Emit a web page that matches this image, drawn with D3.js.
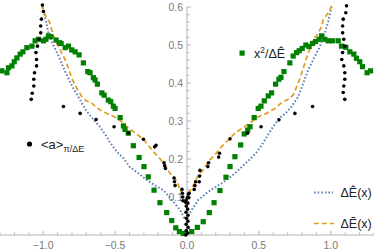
<!DOCTYPE html>
<html>
<head>
<meta charset="utf-8">
<script src="https://cdn.jsdelivr.net/npm/d3@7"></script>
<style>
  html, body { margin: 0; padding: 0; background: #fff; }
  svg { display: block; font-family: "Liberation Sans", Arial, sans-serif; }
</style>
</head>
<body>
<div id="chart"></div>
<script>
// tick values
var xTicks = [-1.0, -0.5, 0.0, 0.5, 1.0];
var yTicks = [0.1, 0.2, 0.3, 0.4, 0.5, 0.6];

// ΔÊ(x), blue dotted
var deltaEHat = [
  [-1.005, 0.600], [-0.980, 0.563], [-0.963, 0.530], [-0.930, 0.500], [-0.896, 0.474],
  [-0.861, 0.442], [-0.826, 0.413], [-0.792, 0.387], [-0.743, 0.355], [-0.708, 0.331],
  [-0.660, 0.308], [-0.627, 0.294], [-0.604, 0.284], [-0.558, 0.259], [-0.535, 0.243],
  [-0.488, 0.219], [-0.442, 0.202], [-0.396, 0.178], [-0.330, 0.160], [-0.280, 0.145],
  [-0.220, 0.130], [-0.164, 0.118], [-0.095, 0.088], [-0.049, 0.066], [-0.014, 0.042],
  [0.000, 0.045], [0.033, 0.066], [0.078, 0.092], [0.148, 0.114], [0.241, 0.136],
  [0.333, 0.162], [0.400, 0.186], [0.440, 0.200], [0.488, 0.219], [0.530, 0.243],
  [0.565, 0.265], [0.611, 0.292], [0.650, 0.310], [0.690, 0.322], [0.727, 0.338],
  [0.773, 0.364], [0.808, 0.399], [0.842, 0.434], [0.877, 0.461], [0.924, 0.496],
  [0.958, 0.531], [0.981, 0.561], [1.005, 0.600]
];

// ΔẼ(x), orange dashed
var deltaETilde = [
  [-1.009, 0.605], [-0.986, 0.579], [-0.956, 0.561], [-0.940, 0.539], [-0.917, 0.513],
  [-0.882, 0.487], [-0.847, 0.461], [-0.824, 0.439], [-0.801, 0.412], [-0.766, 0.386],
  [-0.731, 0.364], [-0.701, 0.353], [-0.662, 0.347], [-0.639, 0.339], [-0.604, 0.329],
  [-0.558, 0.320], [-0.500, 0.310], [-0.453, 0.298], [-0.419, 0.285], [-0.373, 0.272],
  [-0.303, 0.252], [-0.260, 0.232], [-0.234, 0.219], [-0.199, 0.206], [-0.155, 0.185],
  [-0.118, 0.162], [-0.083, 0.149], [-0.060, 0.132], [-0.049, 0.118], [-0.026, 0.105],
  [0.000, 0.095], [0.009, 0.110], [0.033, 0.123], [0.056, 0.140], [0.078, 0.158],
  [0.113, 0.171], [0.148, 0.193], [0.194, 0.211], [0.229, 0.228], [0.287, 0.250],
  [0.333, 0.268], [0.391, 0.283], [0.449, 0.298], [0.495, 0.311], [0.553, 0.320],
  [0.611, 0.333], [0.657, 0.348], [0.703, 0.357], [0.738, 0.368], [0.762, 0.390],
  [0.785, 0.412], [0.808, 0.439], [0.831, 0.465], [0.854, 0.491], [0.877, 0.513],
  [0.912, 0.531], [0.935, 0.548], [0.947, 0.566], [0.970, 0.579], [0.993, 0.592],
  [1.005, 0.603]
];

// x²/ΔÊ, green squares
var xSqOverDE = [
  [-1.287, 0.432], [-1.252, 0.427], [-1.241, 0.440], [-1.217, 0.445], [-1.201, 0.456],
  [-1.183, 0.466], [-1.160, 0.476], [-1.141, 0.482], [-1.113, 0.493], [-1.078, 0.497],
  [-1.056, 0.511], [-1.033, 0.515], [-0.998, 0.511], [-0.981, 0.515], [-0.963, 0.524],
  [-0.947, 0.522], [-0.910, 0.513], [-0.887, 0.506], [-0.875, 0.504], [-0.847, 0.493],
  [-0.824, 0.497], [-0.801, 0.487], [-0.778, 0.482], [-0.750, 0.474], [-0.720, 0.453],
  [-0.690, 0.430], [-0.674, 0.427], [-0.651, 0.414], [-0.639, 0.408], [-0.623, 0.397],
  [-0.592, 0.374], [-0.576, 0.368], [-0.547, 0.355], [-0.530, 0.351], [-0.512, 0.339],
  [-0.500, 0.333], [-0.465, 0.309], [-0.442, 0.287], [-0.431, 0.278], [-0.408, 0.268],
  [-0.373, 0.235], [-0.333, 0.204], [-0.299, 0.180], [-0.269, 0.153], [-0.229, 0.118],
  [-0.188, 0.085], [-0.141, 0.059], [-0.106, 0.038], [-0.078, 0.019], [-0.053, 0.009],
  [-0.026, 0.004],
  [0.033, 0.009], [0.072, 0.020], [0.113, 0.035], [0.155, 0.059], [0.188, 0.085],
  [0.229, 0.117], [0.271, 0.152], [0.299, 0.180], [0.333, 0.206], [0.373, 0.237],
  [0.398, 0.266], [0.422, 0.276], [0.438, 0.285], [0.467, 0.309], [0.495, 0.333],
  [0.514, 0.339], [0.537, 0.353], [0.565, 0.366], [0.588, 0.374], [0.616, 0.397],
  [0.639, 0.410], [0.653, 0.415], [0.674, 0.430], [0.715, 0.453], [0.738, 0.471],
  [0.762, 0.480], [0.780, 0.485], [0.801, 0.491], [0.826, 0.500], [0.849, 0.496],
  [0.873, 0.504], [0.894, 0.509], [0.919, 0.515], [0.935, 0.524], [0.958, 0.515],
  [0.981, 0.511], [1.012, 0.511], [1.051, 0.511], [1.074, 0.497], [1.104, 0.494],
  [1.132, 0.482], [1.160, 0.476], [1.178, 0.465], [1.201, 0.456], [1.220, 0.443],
  [1.252, 0.427], [1.276, 0.432]
];

// <a>_{π/ΔE}, black dots
var aAvg = [
  // left column
  [-1.005, 0.605], [-0.998, 0.588], [-1.012, 0.568], [-1.017, 0.550], [-1.017, 0.532],
  [-1.029, 0.515], [-1.040, 0.497], [-1.050, 0.480], [-1.046, 0.462], [-1.046, 0.445],
  [-1.060, 0.427], [-1.065, 0.410], [-1.065, 0.392], [-1.076, 0.373], [-1.083, 0.357],
  // right column
  [1.109, 0.603], [1.104, 0.585], [1.086, 0.568], [1.082, 0.550], [1.082, 0.532],
  [1.090, 0.515], [1.097, 0.497], [1.082, 0.480], [1.076, 0.462], [1.090, 0.445],
  [1.097, 0.427], [1.097, 0.410], [1.090, 0.392], [1.086, 0.375], [1.097, 0.357],
  // scattered
  [-0.859, 0.338], [-0.743, 0.320], [-0.632, 0.304], [-0.507, 0.285], [-0.408, 0.268],
  [-0.303, 0.252], [0.299, 0.253], [0.421, 0.268], [0.515, 0.285], [0.639, 0.303],
  [0.750, 0.320], [0.873, 0.338],
  // near the centre
  [-0.225, 0.232], [-0.215, 0.236], [-0.160, 0.190], [-0.155, 0.182], [-0.150, 0.175],
  [-0.090, 0.150], [-0.087, 0.140], [-0.083, 0.130], [-0.035, 0.120], [-0.032, 0.110],
  [-0.030, 0.100], [-0.028, 0.090],
  [-0.008, 0.000], [0.005, 0.005], [-0.005, 0.012], [0.008, 0.020], [-0.006, 0.028],
  [0.006, 0.036], [-0.004, 0.044], [0.007, 0.052], [-0.007, 0.060], [0.004, 0.068],
  [-0.005, 0.076], [0.006, 0.084], [-0.006, 0.092], [0.005, 0.100], [-0.010, 0.086],
  [0.012, 0.098], [0.010, 0.108],
  [0.220, 0.205], [0.226, 0.215], [0.145, 0.180], [0.150, 0.190], [0.085, 0.140],
  [0.088, 0.155], [0.090, 0.170], [0.050, 0.120], [0.055, 0.130], [0.060, 0.140],
  [0.015, 0.110]
];

var W = 374, H = 252;
var blue = '#5E81B5', orange = '#E19C24', green = '#008000', axisCol = '#b3b3b3', labCol = '#7a7a7a';

var svg = d3.select('#chart').append('svg')
  .attr('width', W)
  .attr('height', H);

var x = d3.scaleLinear().domain([-1.3, 1.3]).range([0, W]);
var y = d3.scaleLinear().domain([0, 0.6]).range([235, 7]);

// axes (Mathematica style: ticks pointing inward)
var xAxis = svg.append('g').attr('transform', 'translate(0,' + y(0) + ')');
xAxis.append('line').attr('x1', 0).attr('x2', W).attr('stroke', axisCol);
xAxis.selectAll('.minor').data(d3.range(-13, 14).map(function (i) { return i / 10; }))
  .enter().append('line')
  .attr('x1', function (d) { return x(d); }).attr('x2', function (d) { return x(d); })
  .attr('y1', 0).attr('y2', function (d) { return Math.abs(d * 2 - Math.round(d * 2)) < 1e-6 ? -4 : -2.5; })
  .attr('stroke', axisCol);
xAxis.selectAll('text').data(xTicks).enter().append('text')
  .attr('x', function (d) { return x(d); })
  .attr('y', 14)
  .attr('text-anchor', 'middle')
  .attr('fill', labCol)
  .attr('font-size', 10.5)
  .text(function (d) { return d3.format('.1f')(d).replace('-', '\u2212'); });

var yAxis = svg.append('g').attr('transform', 'translate(' + x(0) + ',0)');
yAxis.append('line').attr('y1', y(0)).attr('y2', y(0.6)).attr('stroke', axisCol);
yAxis.selectAll('.minor').data(d3.range(1, 31).map(function (i) { return i / 50; }))
  .enter().append('line')
  .attr('y1', function (d) { return y(d); }).attr('y2', function (d) { return y(d); })
  .attr('x1', 0).attr('x2', function (d) { return Math.abs(d * 10 - Math.round(d * 10)) < 1e-6 ? 4 : 2.5; })
  .attr('stroke', axisCol);
yAxis.selectAll('text').data(yTicks).enter().append('text')
  .attr('x', -4)
  .attr('y', function (d) { return y(d); })
  .attr('dy', '0.35em')
  .attr('text-anchor', 'end')
  .attr('fill', labCol)
  .attr('font-size', 10.5)
  .text(function (d) { return d3.format('.1f')(d); });

var line = d3.line()
  .x(function (d) { return x(d[0]); })
  .y(function (d) { return y(d[1]); });

var plot = svg.append('g');

plot.append('path').datum(deltaEHat)
  .attr('d', line)
  .attr('fill', 'none')
  .attr('stroke', blue)
  .attr('stroke-width', 2)
  .attr('stroke-dasharray', '1.6,2');

plot.append('path').datum(deltaETilde)
  .attr('d', line)
  .attr('fill', 'none')
  .attr('stroke', orange)
  .attr('stroke-width', 1.7)
  .attr('stroke-dasharray', '5,3');

plot.selectAll('.sq').data(xSqOverDE).enter().append('rect')
  .attr('x', function (d) { return x(d[0]) - 2.6; })
  .attr('y', function (d) { return y(d[1]) - 2.6; })
  .attr('width', 5.2).attr('height', 5.2)
  .attr('fill', green);

plot.selectAll('.dot').data(aAvg).enter().append('circle')
  .attr('cx', function (d) { return x(d[0]); })
  .attr('cy', function (d) { return y(d[1]); })
  .attr('r', 1.8)
  .attr('fill', '#000');

// legends
var leg = svg.append('g').attr('fill', '#222');

leg.append('rect').attr('x', 239.5).attr('y', 50.5).attr('width', 5.2).attr('height', 5.2).attr('fill', green);
var t1 = leg.append('text').attr('x', 254).attr('y', 57.5).attr('font-size', 12.5);
t1.append('tspan').text('x');
t1.append('tspan').attr('dy', -5).attr('font-size', 8.5).text('2');
t1.append('tspan').attr('dy', 5).text('/\u0394\u00CA');

leg.append('circle').attr('cx', 29.5).attr('cy', 144).attr('r', 2.6).attr('fill', '#000');
var t2 = leg.append('text').attr('x', 41).attr('y', 148.5).attr('font-size', 13);
t2.append('tspan').text('<a>');
t2.append('tspan').attr('dy', 3.5).attr('font-size', 9).text('\u03C0/\u0394E');

leg.append('line').attr('x1', 314).attr('x2', 333).attr('y1', 192.5).attr('y2', 192.5)
  .attr('stroke', blue).attr('stroke-width', 2).attr('stroke-dasharray', '1.6,2');
leg.append('text').attr('x', 340.5).attr('y', 197).attr('font-size', 12.5).text('\u0394\u00CA(x)');

leg.append('line').attr('x1', 314).attr('x2', 334).attr('y1', 223.5).attr('y2', 223.5)
  .attr('stroke', orange).attr('stroke-width', 1.7).attr('stroke-dasharray', '5,3');
leg.append('text').attr('x', 340.5).attr('y', 228).attr('font-size', 12.5).text('\u0394\u1EBC(x)');
</script>
</body>
</html>
